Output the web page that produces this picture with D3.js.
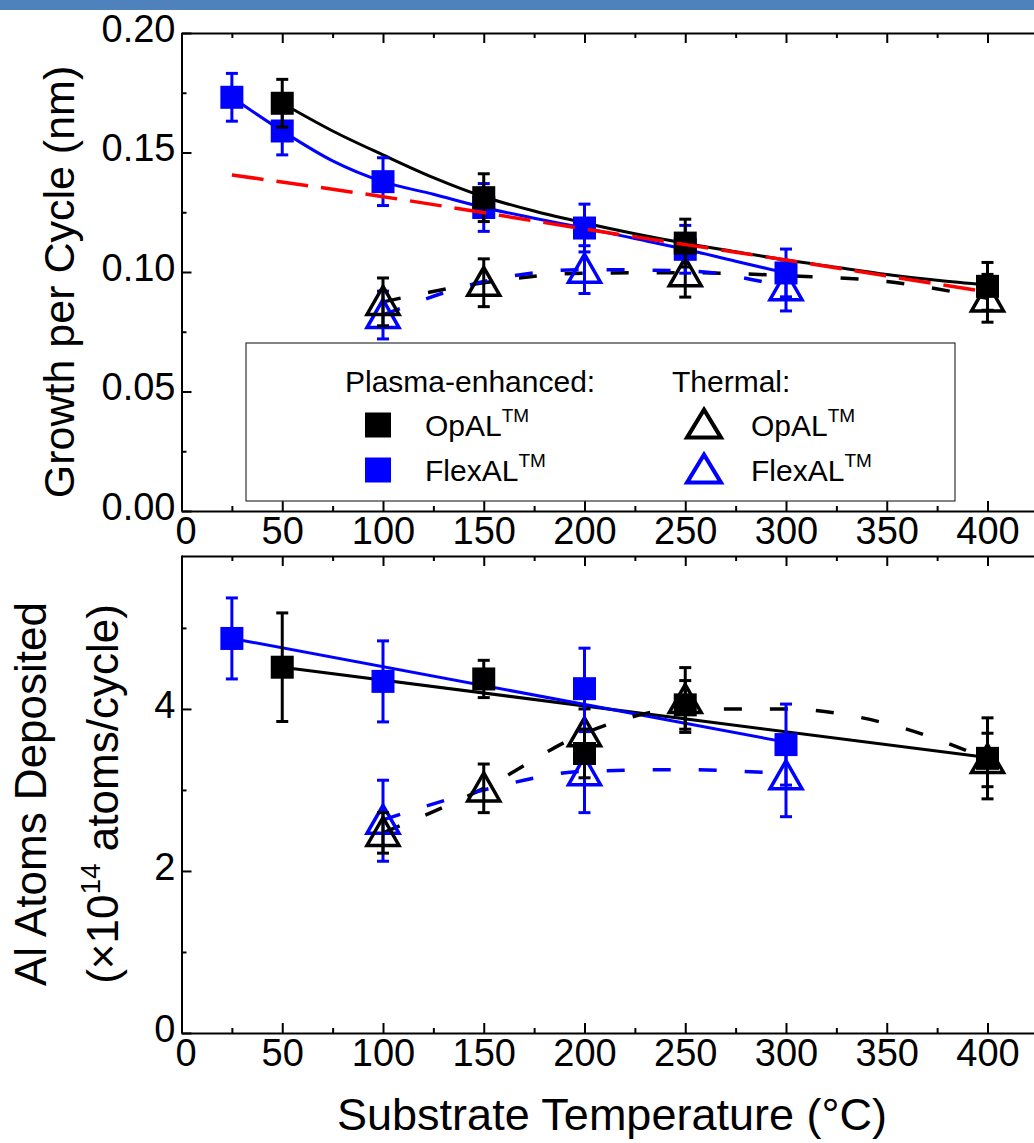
<!DOCTYPE html>
<html>
<head>
<meta charset="utf-8">
<script src="https://cdn.jsdelivr.net/npm/d3@7"></script>
<style>
  body { margin: 0; background: #fff; }
  svg { display: block; }
  text { font-family: "Liberation Sans", Arial, Helvetica, sans-serif; fill: #000; }
</style>
</head>
<body>
<svg id="chart" width="1034" height="1143"></svg>
<script>
// ---------- data ----------
const tempTicks = [0, 50, 100, 150, 200, 250, 300, 350, 400];
const tempMinor = [25, 75, 125, 175, 225, 275, 325, 375, 425];

const gpcTicks = [0, 0.05, 0.10, 0.15, 0.20];
const gpcMinor = [0.025, 0.075, 0.125, 0.175];
const atomTicks = [0, 2, 4];
const atomMinor = [1, 3, 5];

// Growth per cycle (nm): [temperature °C, value, error]
const gpcPlasmaOpAL    = [[50, 0.1706, 0.010], [150, 0.1311, 0.010], [250, 0.1121, 0.010], [400, 0.0940, 0.010]];
const gpcPlasmaFlexAL  = [[25, 0.1731, 0.010], [50, 0.1590, 0.010], [100, 0.1378, 0.010], [150, 0.1270, 0.010],
                          [200, 0.1184, 0.010], [250, 0.1095, 0.010], [300, 0.0996, 0.010]];
const gpcThermalOpAL   = [[100, 0.0875, 0.010], [150, 0.0955, 0.010], [250, 0.0995, 0.010], [400, 0.0890, 0.010]];
const gpcThermalFlexAL = [[100, 0.0820, 0.010], [200, 0.1010, 0.010], [300, 0.0937, 0.010]];

// Trend lines for the growth per cycle: [temperature °C, value]
const gpcTrendPlasmaOpAL   = [[50, 0.1706], [75, 0.1590], [100, 0.1490], [125, 0.1395], [150, 0.1315], [175, 0.1255],
                              [200, 0.1205], [225, 0.1160], [250, 0.1120], [275, 0.1085], [300, 0.1050], [325, 0.1020],
                              [350, 0.0990], [375, 0.0965], [400, 0.0945]];
const gpcTrendPlasmaFlexAL = [[25, 0.1731], [50, 0.1590], [75, 0.1465], [100, 0.1378], [125, 0.1325], [150, 0.1270],
                              [175, 0.1225], [200, 0.1184], [225, 0.1140], [250, 0.1095], [275, 0.1045], [300, 0.0996]];
const gpcTrendThermalOpAL   = [[100, 0.0875], [150, 0.0955], [200, 0.0995], [250, 0.0997], [300, 0.0985], [350, 0.0960], [400, 0.0890]];
const gpcTrendThermalFlexAL = [[100, 0.0820], [150, 0.0960], [200, 0.1010], [250, 0.1005], [300, 0.0937]];
const gpcReference          = [[25, 0.1406], [100, 0.1315], [200, 0.1180], [300, 0.1050], [400, 0.0916]];

// Al atoms deposited (×10^14 atoms/cycle): [temperature °C, value, error]
const atomsPlasmaOpAL    = [[50, 4.515, 0.67], [150, 4.37, 0.23], [200, 3.45, 0.30], [250, 4.05, 0.30], [400, 3.39, 0.50]];
const atomsPlasmaFlexAL  = [[25, 4.87, 0.50], [100, 4.34, 0.50], [200, 4.25, 0.50], [300, 3.56, 0.50]];
const atomsThermalOpAL   = [[100, 2.47, 0.25], [150, 3.02, 0.30], [200, 3.70, 0.30], [250, 4.11, 0.40], [400, 3.37, 0.33]];
const atomsThermalFlexAL = [[100, 2.62, 0.50], [200, 3.22, 0.50], [300, 3.17, 0.50]];

// Trend lines for the deposited atoms
const atomsTrendPlasmaOpAL    = [[50, 4.515], [400, 3.40]];
const atomsTrendPlasmaFlexAL  = [[25, 4.87], [300, 3.59]];
const atomsTrendThermalOpAL   = [[100, 2.47], [150, 3.02], [200, 3.70], [250, 4.00], [300, 4.00], [350, 3.82], [400, 3.38]];
const atomsTrendThermalFlexAL = [[100, 2.63], [150, 3.00], [200, 3.23], [250, 3.25], [300, 3.20]];

// ---------- drawing ----------
const BLACK = "#000000", BLUE = "#0000ff", RED = "#ff0000";
const svg = d3.select("#chart");

// thin banner strip along the top edge
svg.append("rect").attr("x", 0).attr("y", 0).attr("width", 1034).attr("height", 10).attr("fill", "#4f81bd");

const x = d3.scaleLinear().domain([0, 430]).range([181.5, 181.5 + 430 * 2.015]);

function triPath(w, h) {
  return `M0,${-h * 0.55}L${w / 2},${h * 0.45}L${-w / 2},${h * 0.45}Z`;
}

function drawAxes(g, y, yTicks, yMinor, yFormat, top, bottom) {
  const styleAxis = sel => {
    sel.selectAll("path.domain").attr("stroke", "#000").attr("stroke-width", 2);
    sel.selectAll(".tick line").attr("stroke", "#000").attr("stroke-width", 2);
    sel.selectAll(".tick text").attr("font-size", 38).attr("font-family", '"Liberation Sans", Arial, sans-serif');
  };
  // bottom axis with labels, ticks pointing inward
  const ba = g.append("g").attr("transform", `translate(0,${bottom})`)
    .call(d3.axisBottom(x).tickValues(tempTicks).tickSizeInner(-10).tickSizeOuter(0).tickPadding(6).tickFormat(d3.format("d")))
    .call(styleAxis);
  // the corner "0" sits just right of the origin so it clears the y label
  ba.selectAll(".tick text").filter(d => d === 0).attr("dx", 4);
  g.append("g").attr("transform", `translate(0,${bottom})`)
    .call(d3.axisBottom(x).tickValues(tempMinor).tickSizeInner(-5).tickSizeOuter(0).tickFormat(""))
    .call(styleAxis).select("path.domain").remove();
  // top axis, ticks only
  g.append("g").attr("transform", `translate(0,${top})`)
    .call(d3.axisTop(x).tickValues(tempTicks).tickSizeInner(-10).tickSizeOuter(0).tickFormat(""))
    .call(styleAxis);
  g.append("g").attr("transform", `translate(0,${top})`)
    .call(d3.axisTop(x).tickValues(tempMinor).tickSizeInner(-5).tickSizeOuter(0).tickFormat(""))
    .call(styleAxis).select("path.domain").remove();
  // left axis
  const la = g.append("g").attr("transform", `translate(${x(0)},0)`)
    .call(d3.axisLeft(y).tickValues(yTicks).tickSizeInner(-10).tickSizeOuter(0).tickPadding(6).tickFormat(yFormat))
    .call(styleAxis);
  la.selectAll(".tick text").attr("dy", "0.22em");
  g.append("g").attr("transform", `translate(${x(0)},0)`)
    .call(d3.axisLeft(y).tickValues(yMinor).tickSizeInner(-5).tickSizeOuter(0).tickFormat(""))
    .call(styleAxis).select("path.domain").remove();
}

function drawTrend(g, y, pts, color, dash, width) {
  const line = d3.line().x(d => x(d[0])).y(d => y(d[1])).curve(d3.curveMonotoneX);
  g.append("path").datum(pts).attr("d", line)
    .attr("fill", "none").attr("stroke", color).attr("stroke-width", width || 3)
    .attr("stroke-dasharray", dash || null).attr("stroke-linejoin", "round");
}

function drawErrors(g, y, pts, color) {
  const cap = 6;
  const eg = g.append("g").attr("stroke", color).attr("stroke-width", 3).attr("fill", "none");
  pts.forEach(d => {
    const cx = x(d[0]), y1 = y(d[1] + d[2]), y2 = y(d[1] - d[2]);
    eg.append("line").attr("x1", cx).attr("x2", cx).attr("y1", y1).attr("y2", y2);
    eg.append("line").attr("x1", cx - cap).attr("x2", cx + cap).attr("y1", y1).attr("y2", y1);
    eg.append("line").attr("x1", cx - cap).attr("x2", cx + cap).attr("y1", y2).attr("y2", y2);
  });
}

function drawSquares(g, y, pts, color) {
  const s = 23;
  g.append("g").selectAll("rect").data(pts).join("rect")
    .attr("x", d => x(d[0]) - s / 2).attr("y", d => y(d[1]) - s / 2)
    .attr("width", s).attr("height", s).attr("fill", color);
  drawErrors(g, y, pts, color);
}

function drawTriangles(g, y, pts, color) {
  g.append("g").selectAll("path").data(pts).join("path")
    .attr("d", triPath(32, 28))
    .attr("transform", d => `translate(${x(d[0])},${y(d[1])})`)
    .attr("fill", "none").attr("stroke", color).attr("stroke-width", 3.5).attr("stroke-linejoin", "miter");
  drawErrors(g, y, pts, color);
}

// ---------- upper panel: growth per cycle ----------
const yGpc = d3.scaleLinear().domain([0, 0.20]).range([511, 33]);
const gTop = svg.append("g");
drawAxes(gTop, yGpc, gpcTicks, gpcMinor, d3.format(".2f"), 33, 511);

drawTrend(gTop, yGpc, gpcTrendPlasmaOpAL, BLACK, null, 3);
drawTrend(gTop, yGpc, gpcTrendPlasmaFlexAL, BLUE, null, 3);
drawTrend(gTop, yGpc, gpcTrendThermalOpAL, BLACK, "18,28", 3.5);
drawTrend(gTop, yGpc, gpcTrendThermalFlexAL, BLUE, "18,28", 3.5);

drawTriangles(gTop, yGpc, gpcThermalFlexAL, BLUE);
drawTriangles(gTop, yGpc, gpcThermalOpAL, BLACK);
drawSquares(gTop, yGpc, gpcPlasmaFlexAL, BLUE);
drawSquares(gTop, yGpc, gpcPlasmaOpAL, BLACK);

drawTrend(gTop, yGpc, gpcReference, RED, "32,13", 3.5);

svg.append("text")
  .attr("transform", `translate(74,282) rotate(-90)`)
  .attr("text-anchor", "middle").attr("font-size", 43)
  .text("Growth per Cycle (nm)");

// legend
const lg = svg.append("g");
lg.append("rect").attr("x", 246).attr("y", 343).attr("width", 709).attr("height", 158)
  .attr("fill", "#fff").attr("stroke", "#333").attr("stroke-width", 1.2);
lg.append("text").attr("x", 345).attr("y", 392).attr("font-size", 30).text("Plasma-enhanced:");
lg.append("text").attr("x", 672).attr("y", 392).attr("font-size", 30).text("Thermal:");

const legendRows = [
  { label: "OpAL", color: BLACK, y: 425 },
  { label: "FlexAL", color: BLUE, y: 470 }
];
legendRows.forEach(r => {
  lg.append("rect").attr("x", 365).attr("y", r.y - 12.5).attr("width", 26).attr("height", 25).attr("fill", r.color);
  lg.append("path").attr("d", triPath(34, 28)).attr("transform", `translate(704,${r.y})`)
    .attr("fill", "none").attr("stroke", r.color).attr("stroke-width", 4);
  [425, 751].forEach(tx => {
    const t = lg.append("text").attr("x", tx).attr("y", r.y + 11).attr("font-size", 30);
    t.append("tspan").text(r.label);
    t.append("tspan").attr("font-size", 19).attr("dy", -14).text("TM");
  });
});

// ---------- lower panel: Al atoms deposited ----------
const yAtoms = d3.scaleLinear().domain([0, 5.9]).range([1033, 555]);
const gBot = svg.append("g");
drawAxes(gBot, yAtoms, atomTicks, atomMinor, d3.format("d"), 556, 1033);

drawTrend(gBot, yAtoms, atomsTrendPlasmaOpAL, BLACK, null, 3);
drawTrend(gBot, yAtoms, atomsTrendPlasmaFlexAL, BLUE, null, 3);
drawTrend(gBot, yAtoms, atomsTrendThermalOpAL, BLACK, "18,28", 3.5);
drawTrend(gBot, yAtoms, atomsTrendThermalFlexAL, BLUE, "18,28", 3.5);

drawTriangles(gBot, yAtoms, atomsThermalFlexAL, BLUE);
drawTriangles(gBot, yAtoms, atomsThermalOpAL, BLACK);
drawSquares(gBot, yAtoms, atomsPlasmaFlexAL, BLUE);
drawSquares(gBot, yAtoms, atomsPlasmaOpAL, BLACK);

svg.append("text")
  .attr("transform", `translate(46,794) rotate(-90)`)
  .attr("text-anchor", "middle").attr("font-size", 44)
  .text("Al Atoms Deposited");
const line2 = svg.append("text")
  .attr("transform", `translate(118,794) rotate(-90)`)
  .attr("text-anchor", "middle").attr("font-size", 44);
line2.append("tspan").text("(×10");
line2.append("tspan").attr("font-size", 28).attr("dy", -18).text("14");
line2.append("tspan").attr("dy", 18).text(" atoms/cycle)");

svg.append("text")
  .attr("x", 612).attr("y", 1130)
  .attr("text-anchor", "middle").attr("font-size", 45)
  .text("Substrate Temperature (°C)");
</script>
</body>
</html>
